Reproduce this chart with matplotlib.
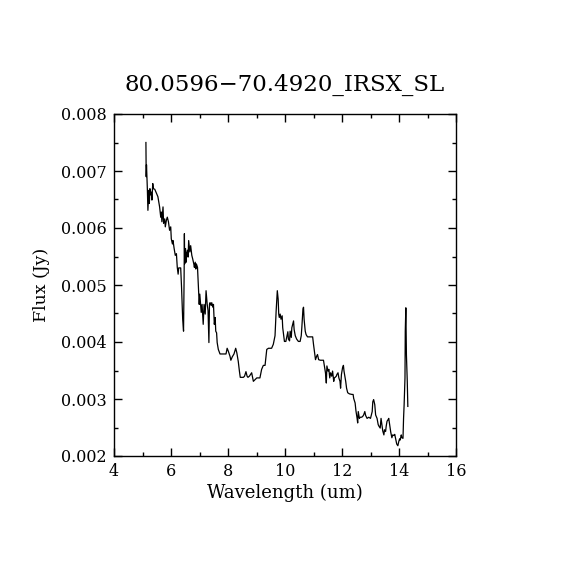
import matplotlib
matplotlib.use("Agg")
import matplotlib.pyplot as plt
from matplotlib.ticker import MultipleLocator, FormatStrFormatter

title = "80.0596\u221270.4920_IRSX_SL"
xlabel = "Wavelength (um)"
ylabel = "Flux (Jy)"

wavelength = [
    5.12, 5.13, 5.14, 5.17, 5.19, 5.22, 5.24, 5.26, 5.29, 5.31, 5.33, 5.36, 5.38, 5.43,
    5.49, 5.54, 5.60, 5.64, 5.66, 5.68, 5.72, 5.74, 5.78, 5.80, 5.84, 5.87, 5.91, 5.95,
    5.99, 6.01, 6.05, 6.07, 6.11, 6.15, 6.19, 6.22, 6.25, 6.27, 6.34, 6.37, 6.39, 6.41,
    6.44, 6.46, 6.47, 6.48, 6.51, 6.53, 6.55, 6.58, 6.60, 6.62, 6.66, 6.69, 6.73, 6.76,
    6.80, 6.82, 6.85, 6.87, 6.89, 6.93, 6.96, 6.99, 7.01, 7.03, 7.06, 7.09, 7.13, 7.16,
    7.20, 7.23, 7.27, 7.30, 7.33, 7.35, 7.37, 7.41, 7.43, 7.47, 7.49, 7.52, 7.55, 7.57,
    7.60, 7.62, 7.66, 7.72, 7.83, 7.93, 7.97, 8.01, 8.07, 8.10, 8.15, 8.21, 8.27, 8.31,
    8.36, 8.40, 8.43, 8.54, 8.58, 8.63, 8.67, 8.70, 8.75,
    8.83, 8.89, 8.95, 9.01, 9.12, 9.18, 9.24, 9.30, 9.36, 9.42, 9.53, 9.59, 9.65, 9.69,
    9.73, 9.76, 9.78, 9.80, 9.83, 9.86, 9.90, 9.92, 9.95, 9.98, 10.03, 10.06, 10.10,
    10.12, 10.16, 10.18, 10.22, 10.24, 10.27, 10.30, 10.32, 10.36, 10.41, 10.47, 10.53,
    10.57, 10.59, 10.63, 10.65, 10.67, 10.71, 10.74, 10.79, 10.88, 10.97, 11.00, 11.04,
    11.07, 11.11, 11.14, 11.18, 11.24, 11.35, 11.39, 11.42, 11.45, 11.47, 11.51, 11.54,
    11.57, 11.60, 11.64, 11.67, 11.71, 11.73, 11.76, 11.80, 11.82, 11.86, 11.89, 11.93,
    11.95, 11.98, 12.00, 12.02, 12.05, 12.07, 12.09, 12.13, 12.16, 12.20, 12.26, 12.35,
    12.39, 12.41, 12.46, 12.49, 12.53, 12.55, 12.57, 12.61, 12.64, 12.68, 12.72, 12.76,
    12.80, 12.83, 12.88, 12.94, 13.00, 13.06, 13.08, 13.11, 13.15, 13.18, 13.23, 13.27,
    13.30, 13.34, 13.37, 13.40, 13.43, 13.47, 13.49, 13.53, 13.55, 13.58, 13.62, 13.64,
    13.68, 13.71, 13.75, 13.78, 13.82, 13.85, 13.89, 13.92, 13.96, 13.99, 14.02, 14.04,
    14.08, 14.10, 14.14, 14.16, 14.18, 14.21, 14.22, 14.23, 14.24, 14.26, 14.29, 14.31,
]

flux = [
    0.00750, 0.00690, 0.00711, 0.00669, 0.00631, 0.00666, 0.00643, 0.00669, 0.00658, 0.00663,
    0.00649, 0.00678, 0.00669, 0.00668, 0.00661, 0.00655, 0.00637, 0.00619, 0.00628, 0.00611,
    0.00637, 0.00608, 0.00616, 0.00602, 0.00614, 0.00619, 0.00611, 0.00596, 0.00602, 0.00581,
    0.00572, 0.00578, 0.00564, 0.00552, 0.00555, 0.00531, 0.00519, 0.00530, 0.00530, 0.00496,
    0.00466, 0.00440, 0.00419, 0.00514, 0.00590, 0.00537, 0.00564, 0.00540, 0.00555, 0.00561,
    0.00549, 0.00578, 0.00558, 0.00569, 0.00552, 0.00546, 0.00537, 0.00531, 0.00540, 0.00528,
    0.00537, 0.00531, 0.00499, 0.00466, 0.00484, 0.00472, 0.00452, 0.00466, 0.00431, 0.00466,
    0.00449, 0.00490, 0.00466, 0.00455, 0.00399, 0.00466, 0.00469, 0.00464, 0.00469, 0.00461,
    0.00466, 0.00431, 0.00443, 0.00419, 0.00416, 0.00399, 0.00387, 0.00379, 0.00379, 0.00379,
    0.00389, 0.00384, 0.00375, 0.00368, 0.00374, 0.00379, 0.00389, 0.00381, 0.00366, 0.00349,
    0.00338, 0.00338, 0.00340, 0.00348, 0.00340, 0.00338, 0.00340,
    0.00346, 0.00331, 0.00334, 0.00337, 0.00337, 0.00352, 0.00359, 0.00359, 0.00387, 0.00389,
    0.00389, 0.00396, 0.00411, 0.00455, 0.00490, 0.00475, 0.00449, 0.00443, 0.00449, 0.00440,
    0.00446, 0.00425, 0.00413, 0.00401, 0.00401, 0.00408, 0.00418, 0.00405, 0.00402, 0.00419,
    0.00408, 0.00425, 0.00431, 0.00437, 0.00422, 0.00411, 0.00405, 0.00401, 0.00401, 0.00411,
    0.00425, 0.00458, 0.00461, 0.00440, 0.00419, 0.00413, 0.00409, 0.00409, 0.00409, 0.00396,
    0.00381, 0.00369, 0.00375, 0.00378, 0.00369, 0.00368, 0.00368, 0.00355, 0.00346, 0.00328,
    0.00358, 0.00349, 0.00352, 0.00337, 0.00346, 0.00340, 0.00349, 0.00331, 0.00337, 0.00338,
    0.00340, 0.00343, 0.00346, 0.00337, 0.00331, 0.00319, 0.00343, 0.00349, 0.00355, 0.00359,
    0.00349, 0.00343, 0.00331, 0.00319, 0.00311, 0.00309, 0.00308, 0.00308, 0.00301, 0.00293,
    0.00279, 0.00266, 0.00258, 0.00278, 0.00266, 0.00268, 0.00268, 0.00269, 0.00272, 0.00278,
    0.00271, 0.00266, 0.00268, 0.00266, 0.00278, 0.00295, 0.00299, 0.00290, 0.00272, 0.00266,
    0.00255, 0.00252, 0.00249, 0.00266, 0.00255, 0.00244, 0.00237, 0.00246, 0.00243, 0.00252,
    0.00261, 0.00264, 0.00266, 0.00252, 0.00242, 0.00232, 0.00237, 0.00236, 0.00238, 0.00228,
    0.00221, 0.00218, 0.00225, 0.00230, 0.00228, 0.00237, 0.00232, 0.00231, 0.00266, 0.00290,
    0.00337, 0.00419, 0.00437, 0.00460, 0.00378, 0.00331, 0.00287,
]

xlim = (4, 16)
ylim = (0.002, 0.008)

plt.rcParams["font.family"] = ["DejaVu Serif"]

fig = plt.figure(figsize=(5.7, 5.7), dpi=100)
ax = fig.add_axes([0.2, 0.2, 0.6, 0.6])
ax.plot(wavelength, flux, color="black", linewidth=0.9)
ax.set_xlim(*xlim)
ax.set_ylim(*ylim)
ax.xaxis.set_major_locator(MultipleLocator(2))
ax.xaxis.set_minor_locator(MultipleLocator(1))
ax.yaxis.set_major_locator(MultipleLocator(0.001))
ax.yaxis.set_minor_locator(MultipleLocator(0.0005))
ax.yaxis.set_major_formatter(FormatStrFormatter("%.3f"))
ax.tick_params(which="both", direction="in", top=True, right=True, width=1, labelsize=11.5, colors="black")
ax.tick_params(which="major", length=6, pad=5)
ax.tick_params(which="minor", length=3)
for s in ax.spines.values():
    s.set_linewidth(1)
ax.set_xlabel(xlabel, fontsize=13, labelpad=3)
ax.set_ylabel(ylabel, fontsize=12.5, labelpad=8)
ax.set_title(title, fontsize=16.5, pad=17)
fig.savefig("out.png", dpi=100, facecolor="white")
